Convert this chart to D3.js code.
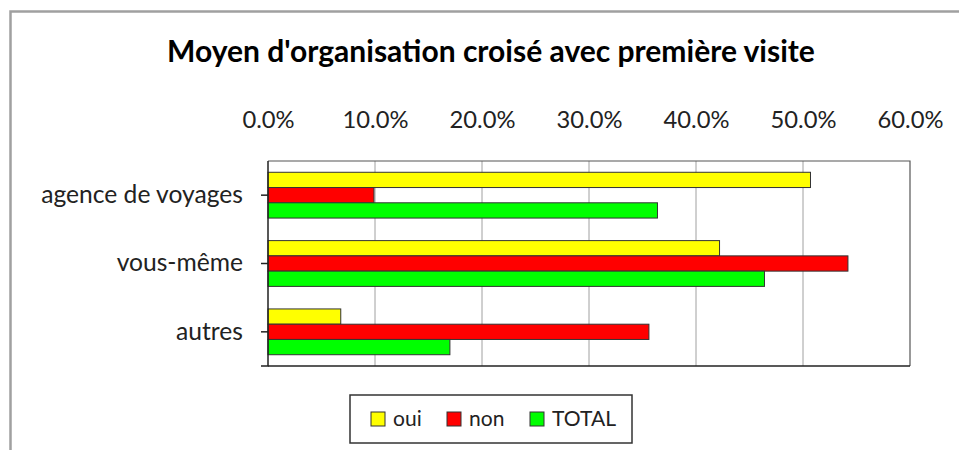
<!DOCTYPE html>
<html><head><meta charset="utf-8">
<script src="https://cdn.jsdelivr.net/npm/d3@7"></script>
<style>body{margin:0;background:#fff}svg{display:block}</style>
</head><body>
<svg id="c" width="959" height="450"></svg>
<script>
// ---- data ----
const categories = ["agence de voyages", "vous-même", "autres"];
const seriesNames = ["oui", "non", "TOTAL"];
const ouiValues = [50.7, 42.2, 6.8];
const nonValues = [9.9, 54.2, 35.6];
const totalValues = [36.4, 46.4, 17.0];
const tickValues = [0, 10, 20, 30, 40, 50, 60];
const chartTitle = "Moyen d'organisation croisé avec première visite";
const seriesColors = ["#FFFF00", "#FF0000", "#00FF00"];

const seriesValues = [ouiValues, nonValues, totalValues];
const rows = categories.map((c, i) => ({cat: c, vals: seriesNames.map((s, j) => ({s, v: seriesValues[j][i], j}))}));

const FONT = "Lato, 'Open Sans', sans-serif";
const svg = d3.select("#c");

function fit(sel, sample, target, base) {
  const t = svg.append("text").attr("font-family", FONT).attr("font-size", base)
    .attr("font-weight", sel && sel.bold ? "bold" : "normal").text(sample);
  const w = t.node().getComputedTextLength();
  t.remove();
  return base * target / w;
}

// outer frame (partial)
svg.append("path").attr("d", "M10.5,450 V11.5 H959").attr("fill", "none")
  .attr("stroke", "#a0a0a0").attr("stroke-width", 2.5);

// layout
const L = 268, R = 910, T = 161, B = 366;
const x = d3.scaleLinear().domain([0, 60]).range([L, R]);
const y = d3.scaleBand().domain(categories).range([T, B]).paddingInner(0.33).paddingOuter(0.165);
const ys = d3.scaleBand().domain(seriesNames).range([0, y.bandwidth()]);

// title
const titleSize = fit({bold: true}, chartTitle, 648, 26);
svg.append("text").attr("x", 491).attr("y", 62).attr("text-anchor", "middle")
  .attr("font-family", FONT).attr("font-weight", "bold").attr("font-size", titleSize)
  .attr("fill", "#000").text(chartTitle);

// gridlines
svg.append("g").selectAll("line").data(tickValues.slice(1, -1)).join("line")
  .attr("x1", d => x(d)).attr("x2", d => x(d)).attr("y1", T).attr("y2", B)
  .attr("stroke", "#a0a0a0").attr("stroke-width", 1);

// plot frame top/right
svg.append("path").attr("d", `M${L},${T}H${R}V${B}`).attr("fill", "none")
  .attr("stroke", "#555").attr("stroke-width", 1.2);

// top axis labels
const tickSize = fit(null, "60.0%", 66, 20);
const xAxis = d3.axisTop(x).tickValues(tickValues).tickSize(0).tickPadding(0)
  .tickFormat(d => d3.format(".1f")(d) + "%");
const gx = svg.append("g").attr("transform", `translate(0,120)`).call(xAxis);
gx.select(".domain").remove();
gx.selectAll("text").attr("font-family", FONT).attr("font-size", tickSize)
  .attr("fill", "#222").attr("dy", "0.35em");

// bars
const g = svg.append("g");
g.selectAll("g").data(rows).join("g")
  .attr("transform", d => `translate(0,${y(d.cat)})`)
  .selectAll("rect").data(d => d.vals).join("rect")
  .attr("x", x(0)).attr("y", d => ys(d.s)).attr("width", d => x(d.v) - x(0))
  .attr("height", ys.bandwidth()).attr("fill", d => seriesColors[d.j])
  .attr("stroke", "#333").attr("stroke-width", 1);

// left axis
const catSize = fit(null, "agence de voyages", 202, 20);
const yAxis = d3.axisLeft(y).tickSize(7).tickPadding(18);
const gy = svg.append("g").attr("transform", `translate(${L},0)`).call(yAxis);
gy.select(".domain").attr("d", `M-7,${B}H0V${T}`).attr("stroke", "#222").attr("stroke-width", 1.5);
gy.selectAll(".tick line").attr("stroke", "#222").attr("stroke-width", 1.5);
gy.selectAll("text").attr("font-family", FONT).attr("font-size", catSize).attr("fill", "#222");
// bottom line
svg.append("line").attr("x1", L).attr("x2", R).attr("y1", B).attr("y2", B)
  .attr("stroke", "#222").attr("stroke-width", 1.5);

// legend
const legSize = fit(null, "TOTAL", 64, 20);
const leg = svg.append("g");
leg.append("rect").attr("x", 350).attr("y", 395).attr("width", 282).attr("height", 48)
  .attr("fill", "#fff").attr("stroke", "#333").attr("stroke-width", 1.5);
const legX = [371, 447, 530];
const items = leg.selectAll("g.item").data(seriesNames).join("g").attr("class", "item")
  .attr("transform", (d, i) => `translate(${legX[i]},419)`);
items.append("rect").attr("x", 0).attr("y", -7).attr("width", 14).attr("height", 14)
  .attr("fill", (d, i) => seriesColors[i]).attr("stroke", "#333").attr("stroke-width", 1);
items.append("text").attr("x", 22).attr("dy", "0.35em").attr("font-family", FONT)
  .attr("font-size", legSize).attr("fill", "#222").text(d => d);
</script>
</body></html>
